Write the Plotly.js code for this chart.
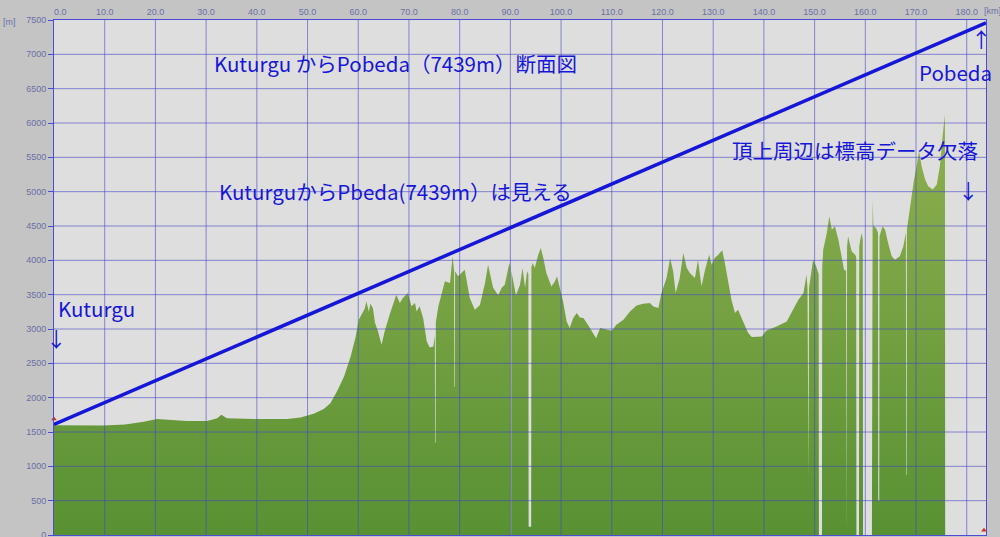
<!DOCTYPE html>
<html><head><meta charset="utf-8">
<script src="https://cdn.plot.ly/plotly-3.0.1.min.js"></script>
<style>html,body{margin:0;padding:0;background:#c4c4c4;} #chart{width:1000px;height:537px;}</style>
</head><body><div id="chart"></div>
<script>
// Elevation profile Kuturgu -> Pobeda (distance km, elevation m)
const profileKm = [
0.0,4.0,9.8,14.0,17.7,20.3,23.0,26.2,30.2,32.2,33.0,34.1,39.4,46.0,48.6,51.2,53.2,54.5,55.8,57.2,
58.5,59.5,60.1,60.8,61.3,61.6,62.1,62.4,62.9,63.3,63.9,64.6,65.2,66.2,67.5,68.2,68.8,69.8,70.5,71.2,
71.5,72.1,72.8,73.5,74.1,74.8,75.1,75.15,75.25,75.3,75.8,77.1,78.1,78.6,78.9,78.95,79.05,79.1,79.7,81.0,
82.0,83.0,84.0,85.0,85.6,86.6,87.6,88.3,88.9,89.8,90.0,90.05,90.15,90.2,91.1,91.9,92.4,92.9,93.3,93.55,
93.6,94.1,94.15,94.4,94.8,95.5,96.0,96.5,97.1,98.1,98.8,99.2,99.8,100.4,101.1,101.7,102.4,103.1,103.7,104.4,
105.3,106.3,106.9,107.7,109.0,110.0,110.9,112.3,113.6,114.9,116.2,117.5,118.2,119.2,119.8,120.8,121.5,122.1,122.6,123.4,
124.1,124.8,125.4,126.4,127.0,127.7,128.4,129.2,129.7,130.3,131.0,131.8,132.3,133.0,133.6,134.3,134.9,135.9,136.9,137.6,
139.6,140.5,142.5,144.5,145.8,146.8,147.8,148.4,148.6,148.7,148.8,148.9,149.2,149.7,150.3,150.8,150.85,151.45,151.5,151.7,
152.4,152.9,153.4,154.0,154.7,155.3,155.8,156.2,156.25,156.35,156.4,156.6,157.3,158.0,158.2,158.25,158.75,158.8,159.0,159.3,
159.5,159.55,161.3,161.35,161.45,161.6,162.1,162.5,162.55,162.75,162.8,163.4,163.9,164.5,165.2,165.85,166.8,167.5,168.0,168.05,
168.15,168.2,168.8,169.5,170.1,170.6,171.1,171.8,172.4,173.3,174.1,174.7,175.3,175.7,175.75
];
const profileElev = [
1600,1598,1595,1610,1650,1690,1680,1660,1660,1700,1750,1700,1690,1690,1710,1765,1835,1920,2090,2310,
2600,2890,3135,3230,3300,3400,3250,3370,3300,3090,2965,2770,2965,3210,3500,3380,3450,3525,3330,3380,
3255,3330,3160,2820,2730,2745,2900,1345,1345,3100,3330,3695,3670,4058,3850,2160,2160,3840,3770,3864,
3450,3280,3350,3670,3937,3600,3490,3600,3645,3960,3900,0,0,3840,3490,3645,3888,3600,3840,3800,
120,120,3900,3960,3888,4082,4180,4034,3815,3620,3694,3767,3572,3402,3110,3013,3159,3232,3169,3159,
3062,2940,2867,3013,2989,2975,3062,3135,3256,3343,3367,3378,3329,3305,3524,3742,4034,3840,3524,3742,
4107,3888,3815,3742,4010,3621,3864,4082,3937,4034,4082,4146,3961,3669,3426,3232,3281,3110,2940,2882,
2891,2979,3038,3110,3281,3426,3524,3791,3600,850,850,3600,3767,4010,3913,3800,0,0,3900,4155,
4399,4641,4447,4496,4301,4058,3864,3850,0,0,4200,4350,4131,4082,4050,0,0,4200,4301,4399,
4300,0,0,4000,4884,4500,4471,4400,500,500,4350,4496,4447,4252,4058,4010,4058,4204,4400,875,
875,4447,4787,5127,5370,5589,5370,5176,5078,5030,5103,5370,5856,6120,0
];
// Line of sight Kuturgu -> Pobeda
const sightKm = [0, 183.8];
const sightElev = [1610, 7460];
// small position markers
const markerKm = [0, 183.4];
const markerElev = [1690, 70];

const xTickVals = [0,10,20,30,40,50,60,70,80,90,100,110,120,130,140,150,160,170,180];
const xTickText = ['\u00a0\u00a0\u00a0\u00a0\u00a00.0','10.0','20.0','30.0','40.0','50.0','60.0','70.0','80.0','90.0','100.0','110.0','120.0','130.0','140.0','150.0','160.0','170.0','180.0'];
const yTickVals = [0,500,1000,1500,2000,2500,3000,3500,4000,4500,5000,5500,6000,6500,7000,7500];
const yTickText = ['0','500','1000','1500','2000','2500','3000','3500','4000','4500','5000','5500','6000','6500','7000','7500'];
const xMax = 183.8, yMax = 7500;

// grid lines drawn as a trace above the fill
const gx = [], gy = [];
xTickVals.filter(v => v > 0 && v < xMax).forEach(v => { gx.push(v, v, null); gy.push(0, yMax, null); });
yTickVals.filter(v => v > 0 && v < yMax).forEach(v => { gx.push(0, xMax, null); gy.push(v, v, null); });

const blue = '#1616d8';
const tickFont = {family: 'Liberation Sans, Arial, sans-serif', size: 9, color: '#6a70a6'};
const txtFont = {family: 'Noto Sans CJK JP, sans-serif', size: 20.5, color: blue};

const traces = [
  {x: profileKm, y: profileElev, type: 'scatter', mode: 'lines', line: {width: 0, color: 'rgba(0,0,0,0)'},
   fill: 'tozeroy',
   fillgradient: {type: 'vertical', start: 0, stop: 6200, colorscale: [[0, '#589133'], [1, '#90b050']]},
   hoverinfo: 'skip'},
  {x: gx, y: gy, type: 'scatter', mode: 'lines', line: {width: 1, color: 'rgba(70,70,200,0.6)'}, hoverinfo: 'skip'},
  {x: sightKm, y: sightElev, type: 'scatter', mode: 'lines', line: {width: 3.5, color: blue}, hoverinfo: 'skip'},
  {x: markerKm, y: markerElev, type: 'scatter', mode: 'markers', marker: {symbol: 'triangle-up', size: 5, color: '#d83020'}, hoverinfo: 'skip', cliponaxis: false}
];

const layout = {
  width: 1000, height: 537,
  margin: {l: 54, r: 14, t: 20, b: 2, pad: 0},
  paper_bgcolor: '#c4c4c4', plot_bgcolor: '#dedede',
  showlegend: false,
  xaxis: {range: [0, xMax], side: 'top', tickvals: xTickVals, ticktext: xTickText, ticks: '',
    showgrid: false, zeroline: false, showline: true, mirror: true, linecolor: '#4b4bd6', linewidth: 1,
    tickfont: tickFont, fixedrange: true},
  yaxis: {range: [0, yMax], tickvals: yTickVals, ticktext: yTickText, ticks: 'outside', ticklen: 5, tickcolor: '#4b4bd6',
    showgrid: false, zeroline: false, showline: true, mirror: true, linecolor: '#4b4bd6', linewidth: 1,
    tickfont: tickFont, ticklabeloverflow: 'allow', fixedrange: true},
  annotations: [
    {xref: 'x', yref: 'y', x: 67.3, y: 6880, text: 'Kuturgu からPobeda（7439m）断面図', showarrow: false, font: txtFont},
    {xref: 'x', yref: 'y', x: 67.4, y: 5005, text: 'KuturguからPbeda(7439m）は見える', showarrow: false, font: txtFont},
    {xref: 'x', yref: 'y', x: 157.9, y: 5613, text: '頂上周辺は標高データ欠落', showarrow: false, font: txtFont},
    {xref: 'x', yref: 'y', x: 177.7, y: 6740, text: 'Pobeda', showarrow: false, font: txtFont},
    {xref: 'x', yref: 'y', x: 182.9, y: 7230, text: '↑', showarrow: false, font: txtFont},
    {xref: 'x', yref: 'y', x: 180.3, y: 5030, text: '↓', showarrow: false, font: txtFont},
    {xref: 'x', yref: 'y', x: 8.4, y: 3310, text: 'Kuturgu', showarrow: false, font: txtFont},
    {xref: 'x', yref: 'y', x: 0.5, y: 2872, text: '↓', showarrow: false, font: txtFont},
    {xref: 'paper', yref: 'paper', x: 0, y: 1, xanchor: 'left', yanchor: 'middle', xshift: -53, yshift: -2, text: '[m]', showarrow: false, font: tickFont},
    {xref: 'paper', yref: 'paper', x: 1, y: 1, xanchor: 'left', yanchor: 'middle', xshift: -4, yshift: 9, text: '[km]', showarrow: false, font: tickFont}
  ]
};

Plotly.newPlot('chart', traces, layout, {staticPlot: true, displayModeBar: false});
</script>
</body></html>
